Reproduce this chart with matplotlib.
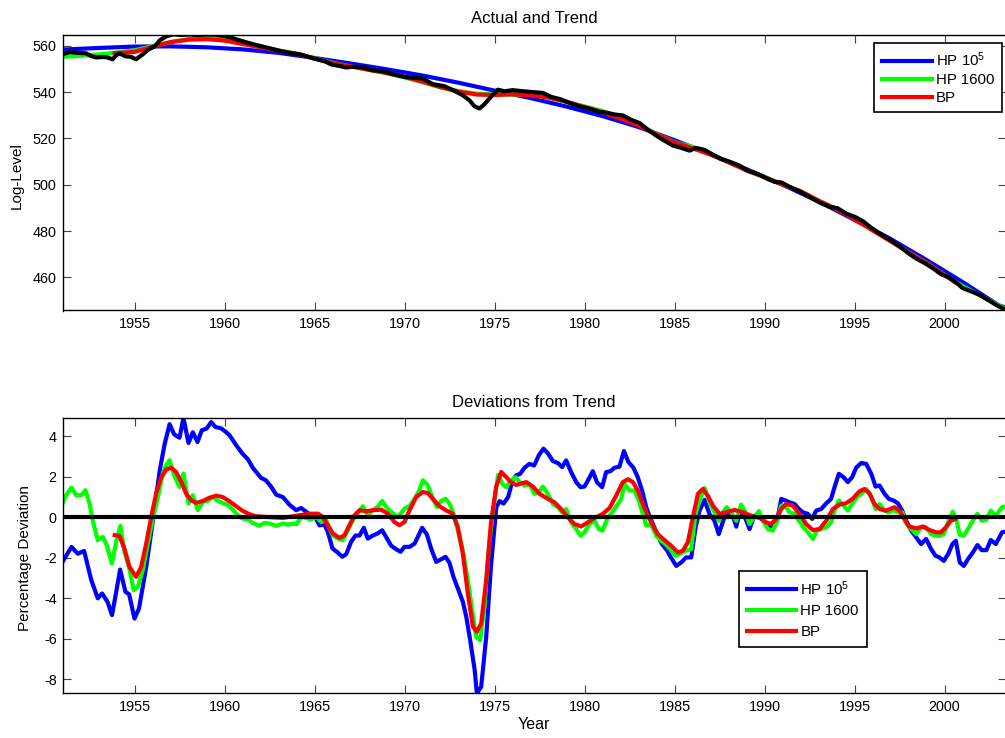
import matplotlib
matplotlib.use("Agg")
import matplotlib.pyplot as plt

plt.rcParams['font.family'] = ['Liberation Sans', 'DejaVu Sans']
plt.rcParams['mathtext.fontset'] = 'custom'
plt.rcParams['mathtext.rm'] = 'Liberation Sans'
plt.rcParams['mathtext.it'] = 'Liberation Sans:italic'
plt.rcParams['mathtext.default'] = 'regular'
plt.rcParams['axes.unicode_minus'] = False

# ---------------- data ----------------
series_labels = [r'HP 10$^{5}$', 'HP 1600', 'BP']
xticks = [1955, 1960, 1965, 1970, 1975, 1980, 1985, 1990, 1995, 2000]
top_yticks = [460, 480, 500, 520, 540, 560]
bot_yticks = [-8, -6, -4, -2, 0, 2, 4]

# Actual log-level (black)
act_x = [1951.0, 1951.4, 1951.85, 1952.3, 1952.6, 1952.87, 1953.24, 1953.5, 1953.78, 1954.0,
         1954.18, 1954.5, 1954.8, 1955.08, 1955.4, 1955.77, 1956.14, 1956.42, 1956.79, 1957.15,
         1957.6, 1958.0, 1958.5, 1959.0, 1959.5, 1960.0, 1960.3, 1960.7, 1961.23, 1961.7,
         1962.34, 1963.24, 1963.8, 1964.2, 1965.0, 1965.56, 1965.93, 1966.4, 1966.76, 1967.13,
         1967.69, 1968.24, 1968.8, 1969.35, 1970.0, 1970.56, 1971.02, 1971.57, 1972.22, 1972.69,
         1973.24, 1973.61, 1973.89, 1974.17, 1974.44, 1974.8, 1975.19, 1975.56, 1976.0, 1976.5,
         1977.22, 1977.69, 1978.15, 1978.7, 1979.17, 1979.72, 1980.28, 1980.74, 1981.2, 1981.67,
         1982.13, 1982.59, 1983.06, 1983.52, 1983.98, 1984.44, 1984.91, 1985.37, 1985.83, 1986.2,
         1986.67, 1987.13, 1987.59, 1988.06, 1988.61, 1989.07, 1989.63, 1990.09, 1990.56, 1990.93,
         1991.39, 1991.94, 1992.5, 1993.06, 1993.61, 1994.07, 1994.54, 1995.0, 1995.46, 1995.93,
         1996.39, 1996.94, 1997.5, 1997.96, 1998.43, 1998.89, 1999.35, 1999.8, 2000.26, 2000.65,
         2001.0, 2001.5, 2001.94, 2002.41, 2002.87, 2003.2, 2003.45]
act_y = [556.3, 557.2, 556.9, 556.7, 555.5, 554.9, 555.1, 554.9, 554.1, 556.0,
         556.6, 555.4, 555.2, 554.1, 555.9, 558.3, 559.8, 562.4, 564.1, 564.9,
         564.6, 564.8, 564.6, 564.8, 564.7, 564.2, 563.6, 562.6, 561.4, 560.4,
         559.2, 557.4, 556.6, 556.2, 554.4, 553.3, 551.9, 551.2, 550.6, 550.9,
         550.6, 549.4, 549.0, 547.7, 546.5, 546.1, 545.8, 543.4, 542.5, 540.8,
         538.6, 536.4, 533.8, 532.9, 534.7, 537.9, 541.0, 540.3, 540.8, 540.4,
         539.9, 539.6, 537.9, 536.8, 535.3, 533.8, 532.8, 531.6, 531.1, 530.3,
         529.9, 528.0, 526.6, 523.7, 521.2, 519.0, 516.9, 515.9, 514.7, 515.9,
         515.0, 513.0, 511.1, 509.9, 508.2, 506.0, 504.6, 502.8, 501.2, 501.0,
         499.1, 497.1, 494.7, 492.3, 490.5, 489.8, 487.5, 486.2, 484.3, 481.4,
         479.0, 476.4, 473.5, 470.6, 468.1, 466.2, 464.0, 461.4, 460.0, 457.8,
         455.4, 453.9, 452.5, 450.3, 448.1, 446.7, 446.0]

# HP 1e5 trend (blue)
hp5_trend_x = [1951, 1953, 1955, 1957, 1959, 1961, 1963, 1965, 1967, 1969, 1971, 1973, 1975,
               1977, 1979, 1981, 1983, 1985, 1987, 1989, 1991, 1993, 1995, 1997, 1999, 2001,
               2003, 2003.5]
hp5_trend_y = [558.3, 559.0, 559.6, 559.7, 559.3, 558.4, 556.9, 554.7, 552.3, 549.8, 547.1,
               544.0, 540.6, 537.4, 533.7, 529.6, 524.9, 519.2, 513.1, 506.7, 500.0, 492.8,
               484.8, 476.6, 467.5, 458.0, 448.0, 446.6]

# HP 1600 trend (green)
hp16_trend_x = [1951, 1952, 1953, 1954, 1955, 1956, 1957, 1958, 1959, 1960, 1961, 1962, 1963,
                1964, 1965, 1966, 1967, 1968, 1969, 1970, 1971, 1972, 1973, 1974, 1975, 1976,
                1977, 1978, 1979, 1980, 1981, 1982, 1983, 1984, 1985, 1986, 1987, 1988, 1989,
                1990, 1991, 1992, 1993, 1994, 1995, 1996, 1997, 1998, 1999, 2000, 2001, 2002,
                2003, 2003.5]
hp16_trend_y = [555.2, 555.6, 556.2, 557.0, 558.0, 559.8, 561.6, 562.8, 563.1, 562.7, 561.2,
                559.6, 558.0, 556.6, 554.6, 552.6, 551.1, 549.6, 548.1, 546.3, 544.2, 542.0,
                540.4, 539.3, 539.0, 538.9, 538.7, 537.7, 535.6, 533.8, 531.8, 529.0, 526.0,
                521.9, 518.4, 516.3, 513.2, 509.7, 506.2, 503.3, 500.1, 497.2, 493.2, 489.5,
                485.4, 480.4, 475.7, 470.9, 466.3, 461.1, 456.3, 452.1, 447.9, 446.0]

# Band-pass trend (red)
bp_trend_x = [1953.9, 1955, 1956, 1957, 1958, 1959, 1960, 1961, 1962, 1963, 1964, 1965, 1966,
              1967, 1968, 1969, 1970, 1971, 1972, 1973, 1974, 1975, 1976, 1977, 1978, 1979,
              1980, 1981, 1982, 1983, 1984, 1985, 1986, 1987, 1988, 1989, 1990, 1991, 1992,
              1993, 1994, 1995, 1996, 1997, 1998, 1999, 2000, 2000.6]
bp_trend_y = [556.8, 557.3, 559.5, 561.5, 562.6, 562.8, 562.2, 560.7, 559.3, 557.8, 556.5,
              554.4, 552.4, 551.1, 549.6, 548.2, 546.6, 544.5, 542.1, 540.2, 538.9, 538.7,
              539.0, 538.6, 537.6, 535.8, 533.5, 531.2, 528.5, 525.5, 521.8, 518.3, 515.7,
              513.0, 509.7, 506.2, 503.2, 500.0, 497.2, 493.1, 489.4, 485.1, 480.3, 475.6,
              470.8, 466.2, 461.0, 457.8]

# Deviations: HP 1e5 (blue)
hp5_dev_x = [1951.0, 1951.5, 1951.85, 1952.2, 1952.6, 1952.96, 1953.2, 1953.5, 1953.75, 1954.0,
             1954.2, 1954.5, 1954.7, 1955.0, 1955.25, 1955.65, 1956.0, 1956.4, 1956.67, 1956.95,
             1957.2, 1957.5, 1957.72, 1958.0, 1958.24, 1958.5, 1958.74, 1959.0, 1959.26, 1959.5,
             1959.8, 1960.1, 1960.28, 1960.65, 1961.0, 1961.3, 1961.57, 1961.76, 1962.04, 1962.3,
             1962.6, 1962.87, 1963.24, 1963.6, 1963.98, 1964.26, 1964.54, 1964.8, 1965.0, 1965.28,
             1965.55, 1965.74, 1966.0, 1966.24, 1966.54, 1966.76, 1967.04, 1967.28, 1967.5, 1967.74,
             1967.96, 1968.24, 1968.5, 1968.76, 1968.98, 1969.26, 1969.54, 1969.78, 1970.0, 1970.28,
             1970.56, 1970.74, 1970.98, 1971.24, 1971.48, 1971.76, 1972.04, 1972.28, 1972.5, 1972.72,
             1972.96, 1973.24, 1973.43, 1973.65, 1973.9, 1974.02, 1974.26, 1974.54, 1974.8, 1975.1,
             1975.28, 1975.5, 1975.76, 1976.0, 1976.2, 1976.43, 1976.67, 1976.94, 1977.2, 1977.46,
             1977.72, 1977.96, 1978.24, 1978.52, 1978.76, 1978.98, 1979.26, 1979.54, 1979.78, 1980.0,
             1980.24, 1980.46, 1980.69, 1980.98, 1981.2, 1981.44, 1981.67, 1981.94, 1982.19, 1982.44,
             1982.72, 1982.96, 1983.2, 1983.43, 1983.6, 1983.8, 1984.07, 1984.3, 1984.6, 1984.8,
             1985.1, 1985.37, 1985.65, 1985.93, 1986.17, 1986.39, 1986.67, 1986.94, 1987.22, 1987.46,
             1987.74, 1988.06, 1988.24, 1988.43, 1988.67, 1988.93, 1989.17, 1989.4, 1989.69, 1989.91,
             1990.19, 1990.46, 1990.7, 1990.93, 1991.17, 1991.39, 1991.67, 1991.91, 1992.13, 1992.41,
             1992.65, 1992.87, 1993.15, 1993.43, 1993.7, 1993.89, 1994.13, 1994.39, 1994.63, 1994.87,
             1995.09, 1995.37, 1995.65, 1995.93, 1996.17, 1996.39, 1996.67, 1996.91, 1997.17, 1997.41,
             1997.65, 1997.87, 1998.15, 1998.43, 1998.7, 1998.98, 1999.26, 1999.5, 1999.72, 1999.96,
             2000.2, 2000.44, 2000.63, 2000.85, 2001.07, 2001.3, 2001.57, 2001.83, 2002.07, 2002.33,
             2002.57, 2002.85, 2003.2, 2003.45]
hp5_dev_y = [-2.2, -1.46, -1.8, -1.66, -3.1, -4.0, -3.76, -4.17, -4.83, -3.6,
             -2.58, -3.68, -3.8, -5.0, -4.5, -2.45, -0.3, 2.3, 3.6, 4.6,
             4.1, 3.93, 4.9, 3.67, 4.2, 3.72, 4.3, 4.38, 4.7, 4.46,
             4.4, 4.2, 4.05, 3.56, 3.14, 2.87, 2.45, 2.24, 1.94, 1.83,
             1.5, 1.12, 1.0, 0.63, 0.35, 0.46, 0.27, 0.1, 0.07, -0.4,
             -0.35, -0.72, -1.54, -1.7, -1.95, -1.82, -1.2, -0.9, -0.9, -0.52,
             -1.05, -0.9, -0.8, -0.64, -0.97, -1.4, -1.58, -1.7, -1.46, -1.46,
             -1.3, -0.97, -0.52, -0.84, -1.54, -2.2, -2.07, -1.95, -2.25, -2.94,
             -3.5, -4.17, -4.9, -6.07, -7.55, -8.7, -8.37, -5.9, -2.45, 0.5,
             0.8, 0.68, 1.0, 1.82, 2.07, 2.15, 2.45, 2.64, 2.56, 3.06,
             3.39, 3.17, 2.78, 2.68, 2.48, 2.81, 2.23, 1.74, 1.49, 1.52,
             1.9, 2.28, 1.74, 1.49, 2.23, 2.28, 2.45, 2.5, 3.27, 2.73,
             2.45, 1.98, 1.32, 0.5, 0.08, -0.33, -0.9, -1.32, -1.65, -1.98,
             -2.4, -2.23, -1.98, -1.98, -0.5, 0.33, 0.86, 0.17, -0.17, -0.83,
             -0.08, 0.25, 0.08, -0.46, 0.41, -0.03, -0.58, 0.0, 0.17, -0.13,
             -0.36, -0.5, -0.17, 0.91, 0.83, 0.74, 0.66, 0.41, 0.25, 0.17,
             -0.08, 0.33, 0.41, 0.69, 0.91, 1.49, 2.15, 1.98, 1.74, 1.98,
             2.45, 2.68, 2.64, 2.15, 1.52, 1.57, 1.16, 0.91, 0.83, 0.69,
             0.33, -0.17, -0.66, -0.99, -1.32, -1.07, -1.57, -1.9, -1.98, -2.15,
             -1.82, -1.32, -1.16, -2.23, -2.4, -2.07, -1.74, -1.37, -1.62, -1.62,
             -1.12, -1.32, -0.74, -0.7]

# Deviations: HP 1600 (green)
hp16_dev_x = [1951.0, 1951.2, 1951.5, 1951.76, 1952.04, 1952.28, 1952.5, 1952.72, 1952.96, 1953.24,
              1953.46, 1953.74, 1954.0, 1954.22, 1954.44, 1954.69, 1954.96, 1955.19, 1955.46, 1955.74,
              1956.0, 1956.3, 1956.57, 1956.76, 1956.95, 1957.2, 1957.5, 1957.72, 1958.0, 1958.24,
              1958.52, 1958.8, 1959.07, 1959.35, 1959.63, 1959.9, 1960.19, 1960.46, 1960.74, 1961.0,
              1961.3, 1961.57, 1961.94, 1962.2, 1962.5, 1962.87, 1963.24, 1963.52, 1963.8, 1964.0,
              1964.26, 1964.54, 1964.8, 1965.1, 1965.37, 1965.65, 1966.0, 1966.3, 1966.57, 1966.85,
              1967.13, 1967.46, 1967.69, 1967.96, 1968.24, 1968.5, 1968.76, 1968.98, 1969.26, 1969.54,
              1969.72, 1970.0, 1970.28, 1970.56, 1970.83, 1971.02, 1971.3, 1971.54, 1971.8, 1972.04,
              1972.28, 1972.5, 1972.72, 1972.96, 1973.24, 1973.52, 1973.76, 1973.98, 1974.2, 1974.44,
              1974.69, 1974.9, 1975.2, 1975.43, 1975.65, 1975.93, 1976.17, 1976.39, 1976.67, 1976.94,
              1977.22, 1977.46, 1977.69, 1977.96, 1978.24, 1978.52, 1978.76, 1978.98, 1979.26, 1979.54,
              1979.78, 1980.0, 1980.28, 1980.56, 1980.8, 1981.0, 1981.3, 1981.54, 1981.8, 1982.04,
              1982.22, 1982.5, 1982.78, 1983.02, 1983.24, 1983.43, 1983.7, 1983.98, 1984.26, 1984.5,
              1984.76, 1985.06, 1985.28, 1985.6, 1985.93, 1986.17, 1986.43, 1986.67, 1986.94, 1987.22,
              1987.46, 1987.69, 1987.9, 1988.2, 1988.43, 1988.7, 1988.94, 1989.17, 1989.4, 1989.69,
              1989.91, 1990.19, 1990.46, 1990.7, 1990.93, 1991.17, 1991.39, 1991.67, 1991.91, 1992.17,
              1992.41, 1992.69, 1992.9, 1993.15, 1993.43, 1993.7, 1993.89, 1994.13, 1994.39, 1994.63,
              1994.87, 1995.13, 1995.37, 1995.65, 1995.93, 1996.17, 1996.39, 1996.67, 1996.91, 1997.17,
              1997.41, 1997.65, 1997.9, 1998.15, 1998.43, 1998.7, 1998.98, 1999.26, 1999.5, 1999.72,
              1999.96, 2000.2, 2000.46, 2000.67, 2000.85, 2001.07, 2001.3, 2001.57, 2001.83, 2002.07,
              2002.33, 2002.57, 2002.85, 2003.2, 2003.45]
hp16_dev_y = [0.68, 1.09, 1.47, 1.09, 1.09, 1.34, 0.68, -0.31, -1.13, -0.97,
              -1.38, -2.28, -1.13, -0.42, -1.7, -2.45, -3.6, -3.43, -2.6, -1.3,
              -0.14, 1.0, 2.16, 2.57, 2.82, 2.08, 1.5, 2.16, 0.68, 1.09,
              0.35, 0.76, 0.81, 1.0, 0.81, 0.71, 0.6, 0.38, 0.1, -0.06,
              -0.11, -0.28, -0.42, -0.28, -0.31, -0.42, -0.31, -0.36, -0.31, -0.34,
              0.02, -0.03, -0.11, 0.02, -0.23, -0.14, -0.88, -1.05, -1.13, -0.64,
              -0.14, 0.27, 0.55, 0.1, 0.35, 0.51, 0.81, 0.51, 0.27, 0.05,
              0.1, 0.43, 0.55, 0.92, 1.34, 1.83, 1.58, 1.0, 0.51, 0.81,
              0.92, 0.68, 0.18, -0.64, -1.63, -3.1, -4.59, -5.9, -6.07, -4.42,
              -1.46, 0.18, 2.1, 1.65, 1.49, 1.82, 1.98, 1.74, 1.57, 1.65,
              1.16, 1.24, 1.52, 1.16, 0.66, 0.5, 0.25, 0.41, -0.25, -0.58,
              -0.91, -0.74, -0.33, -0.17, -0.58, -0.66, 0.0, 0.25, 0.58, 0.91,
              1.65, 1.32, 1.32, 0.83, 0.17, -0.41, -0.33, -0.91, -1.16, -1.32,
              -1.57, -1.9, -1.82, -1.65, -1.57, 0.17, 0.91, 1.45, 0.74, 0.25,
              -0.17, 0.25, 0.5, 0.17, -0.17, 0.63, 0.25, -0.33, 0.0, 0.3,
              -0.17, -0.58, -0.66, -0.17, 0.58, 0.53, 0.25, 0.17, -0.17, -0.5,
              -0.74, -1.07, -0.66, -0.58, -0.5, -0.25, 0.33, 0.83, 0.58, 0.33,
              0.66, 1.0, 1.16, 1.4, 1.0, 0.41, 0.66, 0.33, 0.25, 0.36,
              0.25, 0.25, -0.33, -0.58, -0.83, -0.5, -0.5, -0.83, -0.91, -0.91,
              -0.83, -0.25, 0.28, -0.17, -0.86, -0.91, -0.58, -0.17, 0.17, -0.17,
              -0.13, 0.33, 0.08, 0.5, 0.55]

# Deviations: band-pass (red)
bp_dev_x = [1953.9, 1954.17, 1954.44, 1954.72, 1955.09, 1955.37, 1955.65, 1955.93, 1956.2, 1956.48,
            1956.76, 1957.04, 1957.31, 1957.6, 1957.87, 1958.15, 1958.43, 1958.8, 1959.17, 1959.54,
            1959.9, 1960.28, 1960.65, 1961.0, 1961.4, 1961.76, 1962.3, 1962.87, 1963.24, 1963.8,
            1964.35, 1964.8, 1965.2, 1965.46, 1965.74, 1966.02, 1966.4, 1966.67, 1966.94, 1967.22,
            1967.5, 1967.87, 1968.24, 1968.7, 1969.07, 1969.44, 1969.72, 1970.0, 1970.28, 1970.65,
            1971.02, 1971.3, 1971.57, 1971.94, 1972.3, 1972.67, 1972.96, 1973.24, 1973.52, 1973.8,
            1974.02, 1974.26, 1974.54, 1974.8, 1975.09, 1975.37, 1975.65, 1975.9, 1976.2, 1976.76,
            1977.13, 1977.5, 1977.87, 1978.33, 1978.7, 1979.07, 1979.44, 1979.81, 1980.19, 1980.56,
            1981.02, 1981.39, 1981.76, 1982.13, 1982.41, 1982.69, 1982.96, 1983.24, 1983.52, 1983.8,
            1984.07, 1984.44, 1984.81, 1985.19, 1985.46, 1985.74, 1986.02, 1986.3, 1986.57, 1986.85,
            1987.13, 1987.5, 1987.87, 1988.33, 1988.8, 1989.26, 1989.72, 1990.09, 1990.37, 1990.65,
            1990.93, 1991.2, 1991.57, 1991.94, 1992.31, 1992.69, 1993.06, 1993.43, 1993.8, 1994.17,
            1994.52, 1994.89, 1995.26, 1995.54, 1995.83, 1996.11, 1996.39, 1996.76, 1997.22, 1997.5,
            1997.76, 1998.04, 1998.43, 1998.8, 1999.17, 1999.54, 1999.8, 2000.07, 2000.35, 2000.59]
bp_dev_y = [-0.88, -0.93, -1.54, -2.45, -2.94, -2.45, -1.3, 0.02, 1.17, 1.96,
            2.36, 2.45, 2.24, 1.75, 1.17, 0.84, 0.71, 0.81, 0.97, 1.07,
            1.0, 0.79, 0.55, 0.32, 0.15, 0.05, 0.02, -0.01, -0.03, 0.05,
            0.13, 0.18, 0.18, 0.02, -0.39, -0.8, -1.02, -0.88, -0.39, 0.1,
            0.35, 0.3, 0.35, 0.38, 0.18, -0.23, -0.39, -0.23, 0.35, 1.0,
            1.25, 1.2, 0.92, 0.55, 0.35, 0.18, -0.47, -1.79, -3.76, -5.4,
            -5.65, -5.24, -3.1, -0.31, 1.5, 2.24, 1.99, 1.74, 1.6, 1.74,
            1.52, 1.16, 0.96, 0.74, 0.41, 0.0, -0.33, -0.45, -0.25, -0.03,
            0.17, 0.46, 1.07, 1.74, 1.88, 1.74, 1.32, 0.66, 0.08, -0.41,
            -0.83, -1.12, -1.4, -1.74, -1.65, -1.24, 0.0, 1.16, 1.4, 1.07,
            0.58, 0.17, 0.25, 0.36, 0.25, 0.08, -0.03, -0.25, -0.33, -0.08,
            0.41, 0.66, 0.58, 0.17, -0.33, -0.63, -0.58, -0.17, 0.41, 0.63,
            0.69, 0.91, 1.27, 1.4, 1.19, 0.66, 0.41, 0.33, 0.5, 0.33,
            -0.08, -0.45, -0.55, -0.45, -0.63, -0.74, -0.74, -0.5, -0.17, -0.08]

# ---------------- figure ----------------
W, H = 1005, 738
fig = plt.figure(figsize=(W / 100, H / 100), dpi=100)

ax_left = 62.5 / W
ax_w = (1005.8 - 62.5) / W
ax1 = fig.add_axes([ax_left, 1 - 310.5 / H, ax_w, 275.5 / H])
ax2 = fig.add_axes([ax_left, 1 - 693.3 / H, ax_w, 275.0 / H])

xlim = (1951.0, 1951.0 + (1005.8 - 62.5) / 18.0)
LW = 3.0
BLUE, GREEN, RED = '#0000ff', '#00ff00', '#ff0000'

# top panel
ax1.plot(hp5_trend_x, hp5_trend_y, color=BLUE, lw=LW, label=series_labels[0])
ax1.plot(hp16_trend_x, hp16_trend_y, color=GREEN, lw=LW, label=series_labels[1])
ax1.plot(bp_trend_x, bp_trend_y, color=RED, lw=LW, label=series_labels[2])
ax1.plot(act_x, act_y, color='black', lw=LW)
ax1.set_xlim(*xlim)
ax1.set_ylim(445.7, 564.6)
ax1.set_yticks(top_yticks)
ax1.set_xticks(xticks)
ax1.set_title('Actual and Trend', fontsize=12, pad=8.4)
ax1.set_ylabel('Log-Level', fontsize=11)
ax1.yaxis.set_label_coords(-0.0414, 0.488)

# bottom panel
ax2.plot(hp5_dev_x, hp5_dev_y, color=BLUE, lw=LW, label=series_labels[0])
ax2.plot(hp16_dev_x, hp16_dev_y, color=GREEN, lw=LW, label=series_labels[1])
ax2.plot(bp_dev_x, bp_dev_y, color=RED, lw=LW, label=series_labels[2])
ax2.axhline(0, color='black', lw=LW)
ax2.set_xlim(*xlim)
ax2.set_ylim(-8.69, 4.89)
ax2.set_yticks(bot_yticks)
ax2.set_xticks(xticks)
ax2.set_title('Deviations from Trend', fontsize=12, pad=8.4)
ax2.set_ylabel('Percentage Deviation', fontsize=11)
ax2.yaxis.set_label_coords(-0.0327, 0.49)
ax2.set_xlabel('Year', fontsize=11.5)
ax2.xaxis.set_label_coords(0.5, -0.088)

for ax in (ax1, ax2):
    ax.tick_params(axis='both', direction='in', top=True, right=True, length=6,
                   width=0.8, color='#444444', labelsize=10.4)
    ax.tick_params(axis='x', pad=5.0)
    ax.tick_params(axis='y', pad=4.2)
    for s in ax.spines.values():
        s.set_linewidth(1.0)
        s.set_color('black')

leg1 = ax1.legend(loc='upper left', bbox_to_anchor=((874 - 62.5) / 943.3, (310.5 - 43.3) / 275.5),
                  borderaxespad=0, fontsize=10.8, handlelength=3.36, handletextpad=0.27,
                  borderpad=0.5, labelspacing=0.25, fancybox=False, framealpha=1,
                  edgecolor='black')
leg1.get_frame().set_linewidth(1.2)
leg2 = ax2.legend(loc='upper left', bbox_to_anchor=((739 - 62.5) / 943.3, (693.3 - 570.7) / 275.0),
                  borderaxespad=0, fontsize=10.8, handlelength=3.27, handletextpad=0.27,
                  borderpad=0.55, labelspacing=0.45, fancybox=False, framealpha=1,
                  edgecolor='black')
leg2.get_frame().set_linewidth(1.2)

fig.savefig('out.png', dpi=100)
